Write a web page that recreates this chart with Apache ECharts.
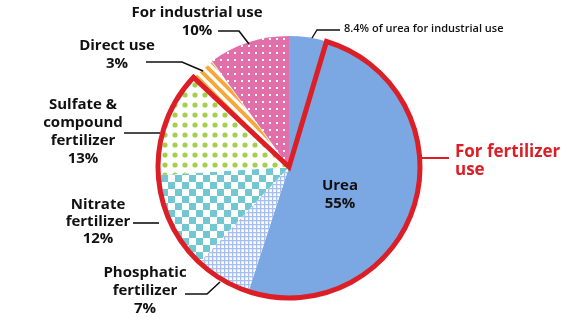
<!DOCTYPE html>
<html><head><meta charset="utf-8">
<script src="https://cdn.jsdelivr.net/npm/echarts@6/dist/echarts.min.js"></script>
<style>html,body{margin:0;padding:0;background:#fff}#c{width:576px;height:325px}</style>
</head><body><div id="c"></div>
<script>
// ---- data ----
const categories = ['Urea', 'Phosphatic fertilizer', 'Nitrate fertilizer', 'Sulfate & compound fertilizer', 'Direct use', 'For industrial use'];
const shares = [55, 7, 12, 13, 3, 10];
const ureaIndustrialPct = 8.4; // % of urea used for industrial purposes
const groupLabel = 'For fertilizer use';
const ureaNote = '8.4% of urea for industrial use';

// ---- patterns ----
function pat(size, draw) {
  const c = document.createElement('canvas');
  c.width = size; c.height = size;
  const ctx = c.getContext('2d');
  draw(ctx, size);
  return { image: c, repeat: 'repeat' };
}
const ureaColor = '#7ba7e2';
const pinkDots = pat(7, (ctx, s) => { ctx.fillStyle = '#e16fa9'; ctx.fillRect(0, 0, s, s); ctx.fillStyle = '#fff'; ctx.fillRect(3, 3, 2, 2); });
const grid = pat(4, (ctx, s) => { ctx.fillStyle = '#fff'; ctx.fillRect(0, 0, s, s); ctx.fillStyle = '#a6bff0'; ctx.fillRect(0, 0, s, 1.3); ctx.fillRect(0, 0, 1.3, s); });
const checker = pat(14, (ctx, s) => { ctx.fillStyle = '#fff'; ctx.fillRect(0, 0, s, s); ctx.fillStyle = '#73c7d1'; ctx.fillRect(0, 0, 7, 7); ctx.fillRect(7, 7, 7, 7); });
const greenDots = pat(10, (ctx, s) => { ctx.fillStyle = '#fff'; ctx.fillRect(0, 0, s, s); ctx.fillStyle = '#a3cf4b'; ctx.beginPath(); ctx.arc(5, 5, 2.6, 0, Math.PI * 2); ctx.fill(); });
const stripes = pat(10, (ctx, s) => {
  ctx.fillStyle = '#fff'; ctx.fillRect(0, 0, s, s);
  ctx.strokeStyle = '#f4a93c'; ctx.lineWidth = 4;
  for (let k = -s; k <= s; k += s) { ctx.beginPath(); ctx.moveTo(k - 2, -2); ctx.lineTo(k + s + 2, s + 2); ctx.stroke(); }
});
const fills = [ureaColor, grid, checker, greenDots, stripes, pinkDots];

// ---- slices ----
const ureaInd = shares[0] * ureaIndustrialPct / 100;
const ureaFert = shares[0] - ureaInd;
const pieData = [
  { name: 'Urea (industrial)', value: ureaInd, itemStyle: { color: ureaColor } },
  { name: categories[0], value: ureaFert, itemStyle: { color: ureaColor } }
];
for (let i = 1; i < categories.length; i++) {
  const it = { name: categories[i], value: shares[i], itemStyle: { color: fills[i] } };
  if (categories[i] === 'Direct use') { it.itemStyle.borderColor = '#fff'; it.itemStyle.borderWidth = 1.5; }
  pieData.push(it);
}
const fertTotal = ureaFert + shares[1] + shares[2] + shares[3];
const outlineData = [
  { name: 'a', value: ureaInd, itemStyle: { color: 'rgba(0,0,0,0)', borderWidth: 0 } },
  { name: groupLabel, value: fertTotal, itemStyle: { color: 'rgba(0,0,0,0)', borderColor: '#dc1f26', borderWidth: 5, borderJoin: 'miter' } },
  { name: 'b', value: shares[4] + shares[5], itemStyle: { color: 'rgba(0,0,0,0)', borderWidth: 0 } }
];

// ---- annotations ----
const F = 'Open Sans';
const black = '#111';
function txt(x, y, text, opt) {
  return Object.assign({ type: 'text', x: x, y: y, z: 100, style: Object.assign({ text: text, fill: black, fontSize: 15, fontWeight: 'bold', fontFamily: F, align: 'center', verticalAlign: 'middle', lineHeight: 18 }, opt || {}) });
}
function line(pts, color, w) {
  return { type: 'polyline', z: 99, shape: { points: pts }, style: { stroke: color || black, lineWidth: w || 1.6, fill: null } };
}
const pct = v => v + '%';
const graphics = [
  txt(197, 22, categories[5] + '\n' + pct(shares[5])),
  line([[218, 31], [239, 31], [249, 44]]),
  txt(117, 55, categories[4] + '\n' + pct(shares[4])),
  line([[146, 62], [182, 62], [203, 71]]),
  txt(83, 132, 'Sulfate &\ncompound\nfertilizer\n' + pct(shares[3])),
  line([[124, 133], [160, 133]]),
  txt(98, 222, 'Nitrate\nfertilizer\n' + pct(shares[2]), { lineHeight: 17 }),
  line([[133, 223], [159, 223]]),
  txt(145, 291, 'Phosphatic\nfertilizer\n' + pct(shares[1])),
  line([[185, 294], [207, 294], [220, 282]]),
  txt(340, 195, categories[0] + '\n' + pct(shares[0]), { textStroke: '#fff', lineWidth: 3 }),
  txt(455, 161, 'For fertilizer\nuse', { fill: '#dc1f26', fontSize: 17, align: 'left', lineHeight: 18 }),
  line([[421, 158], [449, 158]], '#dc1f26', 2),
  txt(344, 29, ureaNote, { fontSize: 11, align: 'left', fontWeight: 600 }),
  line([[312, 38], [317, 30], [340, 30]], black, 1.4)
];

const chart = echarts.init(document.getElementById('c'), null, { renderer: 'canvas' });
chart.setOption({
  animation: false,
  series: [
    { type: 'pie', center: [289, 167], radius: [0, 131], startAngle: 90, clockwise: true, label: { show: false }, labelLine: { show: false }, silent: true, data: pieData, z: 2 },
    { type: 'pie', center: [289, 167], radius: [0, 131], startAngle: 90, clockwise: true, label: { show: false }, labelLine: { show: false }, silent: true, data: outlineData, z: 3 }
  ],
  graphic: graphics
});
</script></body></html>
